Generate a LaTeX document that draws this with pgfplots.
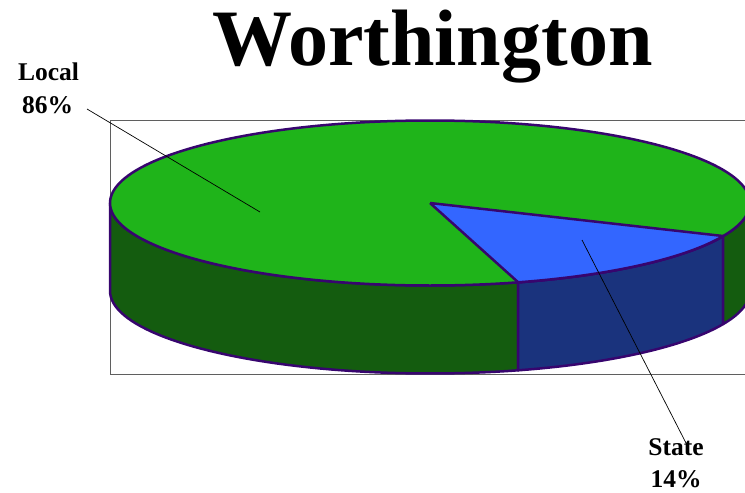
\documentclass[border=0pt]{standalone}
\usepackage{fontspec}
\setmainfont{Liberation Serif}
\usepackage{pgfplots}
\pgfplotsset{compat=1.18}
\definecolor{topgreen}{RGB}{31,180,26}
\definecolor{sidegreen}{RGB}{20,92,15}
\definecolor{topblue}{RGB}{51,102,255}
\definecolor{sideblue}{RGB}{26,51,125}
\definecolor{edge}{RGB}{55,5,110}
\definecolor{framegray}{RGB}{95,95,95}
% data (percent)
\def\valLocal{86}
\def\valState{14}
% geometry of the pie (pixel units)
\def\cx{430}
\def\cy{203}
\def\rx{320}
\def\ry{82.5}
\def\dep{88}
\def\startLocal{-23.6}
\begin{document}
\begin{tikzpicture}[declare function={
  pieang(\u,\a,\b)=(\u<75)*(\a+(\b-\a)*\u/50)+(\u>=75)*(\u<175)*(\b-(\b-\a)*(\u-100)/50)+(\u>=175)*\a;
  piedep(\u)=(\u>75)*(\u<175);
}]
\pgfmathsetmacro{\endLocal}{\startLocal+3.6*\valLocal}% 286
\pgfmathsetmacro{\endState}{\endLocal+3.6*\valState}% 336.4
\begin{axis}[width=745pt,height=493pt,scale only axis,hide axis,
  xmin=0,xmax=745,ymin=0,ymax=493,y dir=reverse,clip=true]
\coordinate (bl) at (axis cs:0,493);
\coordinate (tr) at (axis cs:745,0);
% frame
\addplot[framegray,line width=0.9pt] coordinates {(760,120)(110,120)(110,374)(760,374)};
% side walls
\addplot[fill=sidegreen,draw=edge,line width=2.5pt,line join=round,variable=\u,
  samples at={0,1,...,50,100,101,...,150,200}]
  ({\cx+\rx*cos(pieang(\u,180,\endLocal))},{\cy-\ry*sin(pieang(\u,180,\endLocal))+\dep*piedep(\u)});
\addplot[fill=sideblue,draw=edge,line width=2.5pt,line join=round,variable=\u,
  samples at={0,1,...,50,100,101,...,150,200}]
  ({\cx+\rx*cos(pieang(\u,\endLocal,\endState))},{\cy-\ry*sin(pieang(\u,\endLocal,\endState))+\dep*piedep(\u)});
\addplot[fill=sidegreen,draw=edge,line width=2.5pt,line join=round,variable=\u,
  samples at={0,1,...,50,100,101,...,150,200}]
  ({\cx+\rx*cos(pieang(\u,\endState,360))},{\cy-\ry*sin(pieang(\u,\endState,360))+\dep*piedep(\u)});
% top ellipse (Local)
\addplot[fill=topgreen,draw=edge,line width=2.5pt,domain=0:360,samples=241]
  ({\cx+\rx*cos(x)},{\cy-\ry*sin(x)});
% State wedge on top
\addplot[fill=topblue,draw=edge,line width=2.5pt,line join=round,variable=\u,
  samples at={-1,0,1,...,50,51}]
  ({\cx+(\u>=0)*(\u<=50)*\rx*cos(\endLocal+3.6*\valState*\u/50)},
   {\cy-(\u>=0)*(\u<=50)*\ry*sin(\endLocal+3.6*\valState*\u/50)});
% leader lines
\addplot[black,line width=0.7pt] coordinates {(87,109)(260,212)};
\addplot[black,line width=0.7pt] coordinates {(582,240)(686,443)};
% texts
\node[anchor=base,font=\fontsize{80}{96}\selectfont\bfseries] at (axis cs:432.5,65) {Worthington};
\node[anchor=base,font=\fontsize{25.5}{30}\selectfont\bfseries] at (axis cs:48.5,80) {Local};
\node[anchor=base,font=\fontsize{25.5}{30}\selectfont\bfseries] at (axis cs:47.5,113) {86\%};
\node[anchor=base,font=\fontsize{25.5}{30}\selectfont\bfseries] at (axis cs:676,455) {State};
\node[anchor=base,font=\fontsize{25.5}{30}\selectfont\bfseries] at (axis cs:676,487) {14\%};
\end{axis}
\pgfresetboundingbox
\useasboundingbox (bl) rectangle (tr);
\end{tikzpicture}
\end{document}
